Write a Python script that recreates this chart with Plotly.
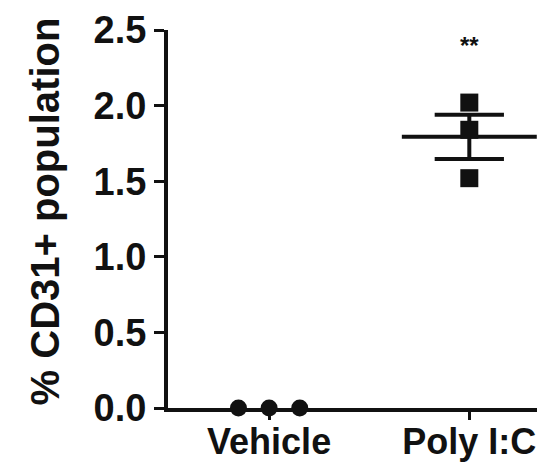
import numpy as np
import plotly.graph_objects as go

categories = ["Vehicle", "Poly I:C"]
vehicle_values = [0.0, 0.0, 0.0]
polyic_values = [2.02, 1.84, 1.52]
y_ticks = [0.0, 0.5, 1.0, 1.5, 2.0, 2.5]
y_tick_labels = ["0.0", "0.5", "1.0", "1.5", "2.0", "2.5"]
significance = "**"

FONT = "Liberation Sans"
INK = "#111111"

# page body offset (default 8px body margin) compensation
L, T, B = 160, 22, 66
PLOT_W = 545 - L

cat_x = {c: i + 1 for i, c in enumerate(categories)}
veh_offsets = [-0.153, 0.0, 0.153]

fig = go.Figure()

groups = [(categories[0], vehicle_values), (categories[1], polyic_values)]
lx, ly = [], []
for cat, vals in groups:
    v = np.array(vals, dtype=float)
    m = v.mean()
    sem = v.std(ddof=1) / np.sqrt(len(v))
    if m == 0 and sem == 0:
        continue  # coincides with the x axis line; hidden in the original
    xc = cat_x[cat]
    lx += [xc - 0.337, xc + 0.337, None]
    ly += [m, m, None]
    lx += [xc - 0.173, xc + 0.173, None, xc - 0.173, xc + 0.173, None, xc, xc, None]
    ly += [m + sem, m + sem, None, m - sem, m - sem, None, m + sem, m - sem, None]

fig.add_trace(go.Scatter(x=lx, y=ly, mode="lines",
                         line=dict(color=INK, width=4), hoverinfo="skip",
                         showlegend=False, cliponaxis=False))

fig.add_trace(go.Scatter(
    x=[cat_x[categories[0]] + o for o in veh_offsets], y=vehicle_values,
    mode="markers", marker=dict(symbol="circle", size=17, color=INK),
    showlegend=False, cliponaxis=False))

fig.add_trace(go.Scatter(
    x=[cat_x[categories[1]]] * len(polyic_values), y=polyic_values,
    mode="markers", marker=dict(symbol="square", size=18, color=INK),
    showlegend=False, cliponaxis=False))

fig.add_annotation(x=cat_x[categories[1]], y=2.40, text="<b>%s</b>" % significance,
                   showarrow=False, font=dict(family=FONT, size=24, color=INK))

# y-axis title as rotated text
fig.add_annotation(xref="paper", yref="y", x=(37 - L) / PLOT_W, y=1.3,
                   text="<b>% CD31+ population</b>", textangle=-90,
                   showarrow=False, xanchor="center", yanchor="middle",
                   font=dict(family=FONT, size=40, color=INK))

fig.update_layout(
    width=545, height=466,
    margin=dict(l=L, r=0, t=T, b=B),
    paper_bgcolor="white", plot_bgcolor="white",
    font=dict(family=FONT, color=INK),
)

fig.update_xaxes(
    range=[0.495, 2.418], tickmode="array",
    tickvals=[cat_x[c] for c in categories],
    ticktext=["<b>%s</b>" % c for c in categories],
    tickfont=dict(family=FONT, size=36, color=INK),
    showline=True, linecolor=INK, linewidth=4,
    ticks="outside", ticklen=8, tickwidth=3, tickcolor=INK,
    ticklabelstandoff=-9,
    showgrid=False, zeroline=False, automargin=False,
)

fig.update_yaxes(
    range=[0, 2.5], tickmode="array", tickvals=y_ticks,
    ticktext=["<b>%s</b>" % t for t in y_tick_labels],
    tickfont=dict(family=FONT, size=38, color=INK),
    showline=True, linecolor=INK, linewidth=4,
    ticks="outside", ticklen=10, tickwidth=3, tickcolor=INK,
    showgrid=False, zeroline=False, automargin=False,
)

fig.write_html("out.html")
